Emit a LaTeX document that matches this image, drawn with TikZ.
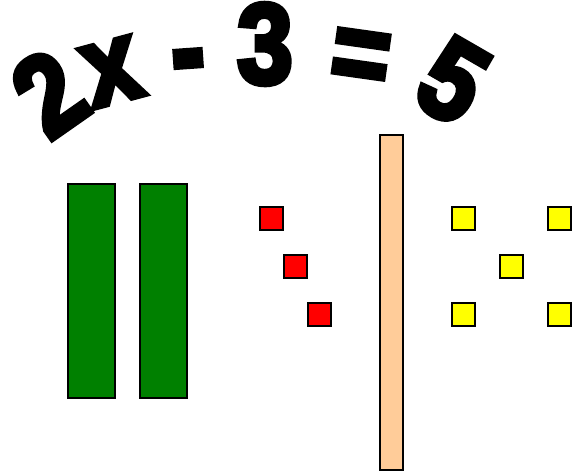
\documentclass[tikz,border=0pt]{standalone}
\usepackage{fontspec}
\usepackage{tikz}
\usepackage{xcolor}
\newfontfamily\eqfont[FakeBold=5]{Liberation Sans Bold}
\definecolor{tilegreen}{HTML}{008000}
\definecolor{tilered}{HTML}{FF0000}
\definecolor{tileyellow}{HTML}{FFFF00}
\definecolor{tilepeach}{HTML}{FFCC99}

\begin{document}
\begin{tikzpicture}[x=1pt, y=-1pt,
  glyph/.style={font=\eqfont\fontsize{100}{100}\selectfont, inner sep=0pt, rotate=#1, yscale=1.14},
  xtile/.style={draw=black, line width=2pt, fill=tilegreen, minimum width=47pt, minimum height=214pt, inner sep=0pt},
  negunit/.style={draw=black, line width=1.8pt, fill=tilered, minimum size=23pt, inner sep=0pt},
  posunit/.style={draw=black, line width=1.8pt, fill=tileyellow, minimum size=23pt, inner sep=0pt},
  divider/.style={draw=black, line width=1.8pt, fill=tilepeach, minimum width=23pt, minimum height=335pt, inner sep=0pt}
]
\useasboundingbox (0,0) rectangle (583,472);
% equation along an arc
\node[glyph=35] (two) at (49,93) {2};
\node[glyph=15] (ex) at (112,72) {x};
\node[glyph=4, yscale=1.1] (minus) at (189,71) {-};
\node[glyph=0] (three) at (265,44) {3};
\node[glyph=-8] (equals) at (360,62) {=};
\node[glyph=-30] (five) at (453,81) {5};
% x tiles
\node[xtile] (xbar1) at (91.5,291) {};
\node[xtile] (xbar2) at (163.8,291) {};
% -1 tiles
\node[negunit] (neg1) at (271.8,218.8) {};
\node[negunit] (neg2) at (295.8,266.8) {};
\node[negunit] (neg3) at (319.8,314.8) {};
% the balance line
\node[divider] (balance) at (391.8,302.5) {};
% +1 tiles
\node[posunit] (pos1) at (463.8,218.8) {};
\node[posunit] (pos2) at (559.8,218.8) {};
\node[posunit] (pos3) at (511.8,266.8) {};
\node[posunit] (pos4) at (463.8,314.8) {};
\node[posunit] (pos5) at (559.8,314.8) {};
\end{tikzpicture}
\end{document}
